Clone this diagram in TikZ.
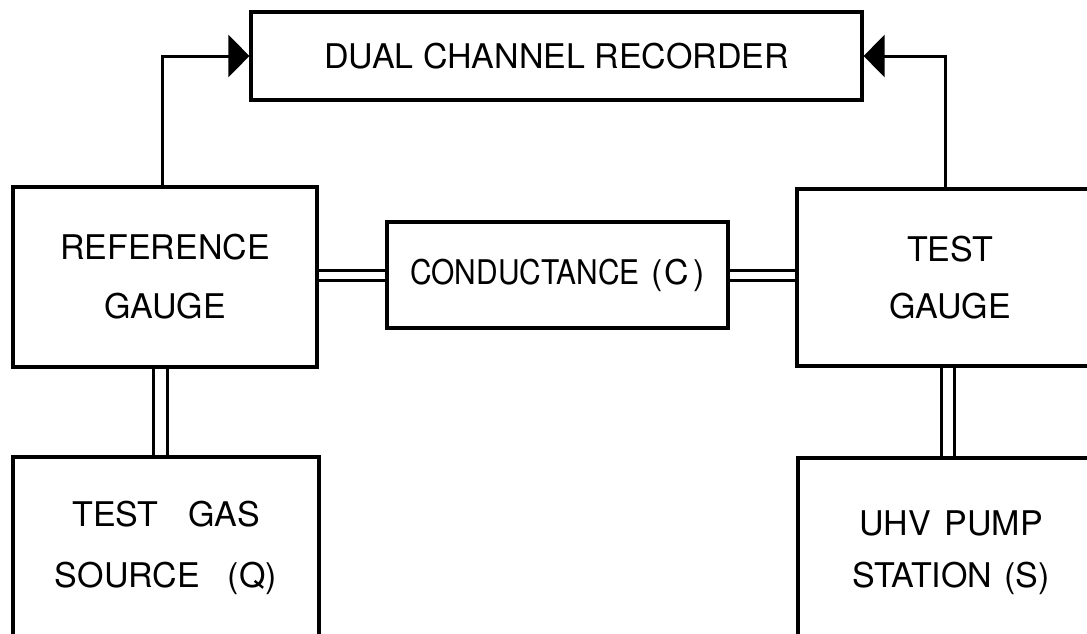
\documentclass[tikz,border=0pt]{standalone}
\usepackage{fontspec}
\setmainfont{TeX Gyre Heros}
\usetikzlibrary{arrows.meta,backgrounds}
\begin{document}
\begin{tikzpicture}[x=1pt,y=-1pt,
  box/.style={draw, line width=3.2pt, inner sep=0pt, align=center},
  lbl/.style={font=\fontsize{34}{#1}\selectfont},
  feed/.style={line width=3pt, -{Triangle[length=21pt,width=42pt]}},
  pipe/.style={line width=3pt, double, double distance=#1},
  pipe/.default=7pt]
\useasboundingbox (0,0) rectangle (1087,633);

% blocks
\node[box, lbl=40, minimum width=611pt, minimum height=88pt] (rec) at (556.5,56)
  {DUAL CHANNEL RECORDER};
\node[box, lbl=59, minimum width=304pt, minimum height=180pt] (ref) at (165,277)
  {REFERENCE\\GAUGE};
\node[box, lbl=40, minimum width=341pt, minimum height=106pt] (cond) at (557.5,275)
  {\scalebox{0.88}[1]{CONDUCTANCE}\hspace{12pt}(\kern2pt C\kern4pt)};
\node[box, lbl=57, minimum width=306pt, minimum height=177pt] (tg) at (950,277.5)
  {TEST\\GAUGE};
\node[box, lbl=61, minimum width=306pt, minimum height=182pt] (src) at (166,548)
  {TEST\hspace{30pt}GAS\\SOURCE\hspace{28pt}(Q)};
\node[box, lbl=52, minimum width=306pt, minimum height=190pt] (pump) at (951,553)
  {UHV\hspace{14pt}PUMP\\STATION\hspace{12pt}(S)};

% signal leads and vacuum lines
\begin{pgfonlayer}{background}
  \draw[feed] ([xshift=-3pt]ref.north) |- (rec.west);
  \draw[feed] ([xshift=-5pt]tg.north) |- (rec.east);
  \draw[pipe] (cond.west -| ref.east) -- (cond.west);
  \draw[pipe] (cond.east) -- (cond.east -| tg.west);
  \draw[pipe=10.5pt] ([xshift=-4.5pt]ref.south) -- ([xshift=-4.5pt]ref.south |- src.north);
  \draw[pipe=10.5pt] ([xshift=-2pt]tg.south) -- ([xshift=-2pt]tg.south |- pump.north);
\end{pgfonlayer}
\end{tikzpicture}
\end{document}
